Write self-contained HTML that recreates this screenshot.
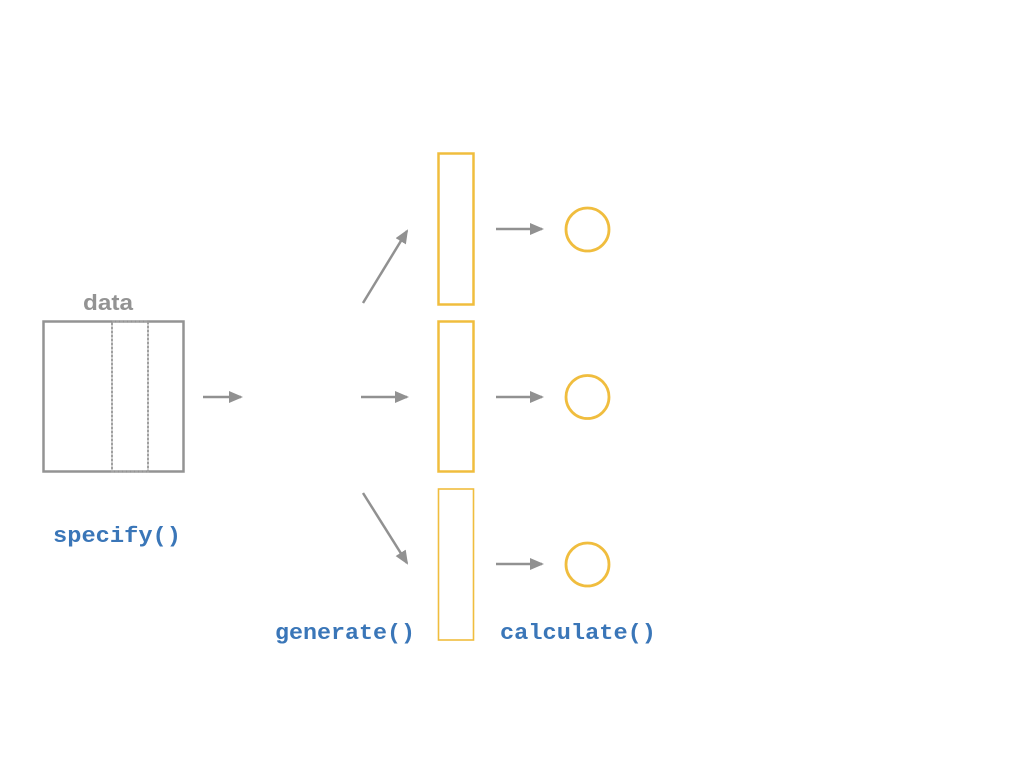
<!DOCTYPE html>
<html><head><style>html,body{margin:0;padding:0;background:#fff;}</style></head>
<body>
<svg width="1024" height="768" viewBox="0 0 1024 768" xmlns="http://www.w3.org/2000/svg">
<defs>
<marker id="ah" markerWidth="14" markerHeight="12" refX="12" refY="6" orient="auto" markerUnits="userSpaceOnUse">
<path d="M0,0 L14,6 L0,12 z" fill="#919191"/>
</marker>
</defs>
<rect x="0" y="0" width="1024" height="768" fill="#fff"/>
<text x="108" y="310" font-family="Liberation Sans, sans-serif" font-weight="bold" font-size="22" fill="#939393" text-anchor="middle" textLength="50" lengthAdjust="spacingAndGlyphs">data</text>
<rect x="43.5" y="321.5" width="140" height="150" fill="none" stroke="#939393" stroke-width="2.5"/>
<rect x="112" y="321.5" width="36" height="150" fill="none" stroke="#a0a0a0" stroke-width="2" stroke-dasharray="3,1"/>
<g stroke="#919191" stroke-width="2.5" fill="none" marker-end="url(#ah)">
<line x1="203" y1="397" x2="241" y2="397"/>
<line x1="361" y1="397" x2="407" y2="397"/>
<line x1="363" y1="303" x2="407" y2="231"/>
<line x1="363" y1="493" x2="407" y2="563"/>
<line x1="496" y1="229" x2="542" y2="229"/>
<line x1="496" y1="397" x2="542" y2="397"/>
<line x1="496" y1="564" x2="542" y2="564"/>
</g>
<g fill="none" stroke="#f0bd3e">
<rect x="438.5" y="153.5" width="35" height="151" stroke-width="2.5"/>
<rect x="438.5" y="321.5" width="35" height="150" stroke-width="2.5"/>
<rect x="438.5" y="489" width="35" height="151" stroke-width="1.6"/>
<circle cx="587.5" cy="229.5" r="21.5" stroke-width="2.8"/>
<circle cx="587.5" cy="397" r="21.5" stroke-width="2.8"/>
<circle cx="587.5" cy="564.5" r="21.5" stroke-width="2.8"/>
</g>
<g font-family="Liberation Mono, monospace" font-weight="bold" font-size="22" fill="#3a76b8">
<text x="53" y="542" textLength="128" lengthAdjust="spacingAndGlyphs">specify()</text>
<text x="275" y="639" textLength="140" lengthAdjust="spacingAndGlyphs">generate()</text>
<text x="500" y="639" textLength="156" lengthAdjust="spacingAndGlyphs">calculate()</text>
</g>
</svg>
</body></html>
